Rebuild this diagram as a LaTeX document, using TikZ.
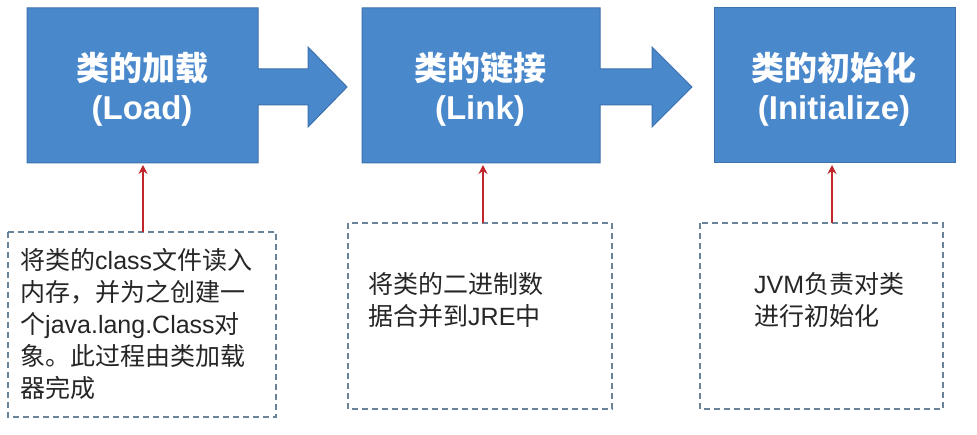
\documentclass[tikz,border=0pt]{standalone}
\usepackage{fontspec}
\setmainfont{Liberation Sans}
\newfontfamily\cjk{Noto Sans CJK SC}
\usetikzlibrary{arrows.meta}
\definecolor{blu}{HTML}{4A88CC}
\definecolor{bord}{HTML}{3C72AE}
\definecolor{dsh}{HTML}{6A8399}
\definecolor{rd}{HTML}{C0262B}
\tikzset{
 stage/.style={fill=blu,draw=bord,line width=1pt},
 title/.style={text=white,font=\fontsize{33}{39}\selectfont\bfseries,align=center},
 dbox/.style={draw=dsh,line width=1.5pt,dash pattern=on 6pt off 4pt},
 btxt/.style={font=\fontsize{25}{32}\selectfont,align=left,anchor=west,inner sep=0pt,text=black!85},
 redar/.style={draw=rd,line width=2pt,-{Stealth[length=9pt,width=9pt]}}
}
\begin{document}
\begin{tikzpicture}[x=1pt,y=-1pt]
\useasboundingbox (0,0) rectangle (977,435);
\fill[white] (0,0) rectangle (977,435);
% stages
\draw[stage] (27,8) -- (258,8) -- (258,69) -- (308,69) -- (308,47) -- (347,87) -- (308,127) -- (308,105) -- (258,105) -- (258,163) -- (27,163) -- cycle;
\draw[stage] (362,8) -- (600,8) -- (600,69) -- (652,69) -- (652,47) -- (692,87) -- (652,127) -- (652,105) -- (600,105) -- (600,163) -- (362,163) -- cycle;
\draw[stage] (714,8) rectangle (955,163);
\node[title] (t1) at (142,89) {{\cjk 类的加载}\\(Load)};
\node[title] (t2) at (480,89) {{\cjk 类的链接}\\(Link)};
\node[title] (t3) at (834,89) {{\cjk 类的初始化}\\(Initialize)};
\coordinate (s1) at (143,165);
\coordinate (s2) at (483,165);
\coordinate (s3) at (832,165);
% boxes
\draw[dbox] (8,232) rectangle (276,417);
\draw[dbox] (348,223) rectangle (612,409);
\draw[dbox] (700,223) rectangle (943,409);
\coordinate (b1) at (143,232);
\coordinate (b2) at (483,223);
\coordinate (b3) at (832,223);
\node[btxt] (x1) at (20,324) {{\cjk 将类的}class{\cjk 文件读入}\\{\cjk 内存，并为之创建一}\\{\cjk 个}java.lang.Class{\cjk 对}\\{\cjk 象。此过程由类加载}\\{\cjk 器完成}};
\node[btxt] (x2) at (368,300) {{\cjk 将类的二进制数}\\{\cjk 据合并到}JRE{\cjk 中}};
\node[btxt] (x3) at (754,300) {JVM{\cjk 负责对类}\\{\cjk 进行初始化}};
\draw[redar] (b1) -- (s1);
\draw[redar] (b2) -- (s2);
\draw[redar] (b3) -- (s3);
\end{tikzpicture}
\end{document}
